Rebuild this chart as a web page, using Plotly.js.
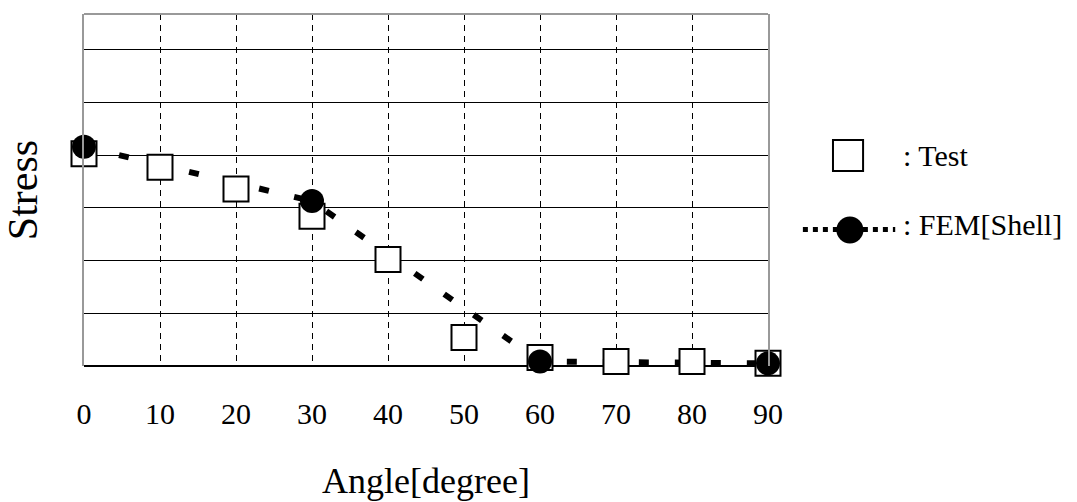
<!DOCTYPE html>
<html>
<head>
<meta charset="utf-8">
<script src="https://cdn.plot.ly/plotly-3.0.1.min.js"></script>
<style>html,body{margin:0;padding:0;background:#fff;}#chart{width:1077px;height:502px;}</style>
</head>
<body>
<div id="chart"></div>
<script>
const angles = [0, 10, 20, 30, 40, 50, 60, 70, 80, 90];
const testStress = [4.03, 3.77, 3.36, 2.84, 2.02, 0.54, 0.16, 0.085, 0.085, 0.05];
const femAngles = [0, 30, 60, 90];
const femStress = [4.16, 3.13, 0.085, 0.05];
const xTickVals = [0, 10, 20, 30, 40, 50, 60, 70, 80, 90];
const xTickText = ["0", "10", "20", "30", "40", "50", "60", "70", "80", "90"];
const yGrid = [1, 2, 3, 4, 5, 6];

const FONT = "Liberation Serif, Times New Roman, serif";

const traces = [
  { x: femAngles, y: femStress, type: "scatter", mode: "lines", cliponaxis: false,
    line: { color: "black", width: 6, dash: "10px,26px" }, hoverinfo: "skip", showlegend: false },
  { x: angles, y: testStress, type: "scatter", mode: "markers", cliponaxis: false, name: "Test",
    marker: { symbol: "square", size: 25, color: "white", line: { color: "black", width: 2 } }, showlegend: false },
  { x: femAngles, y: femStress, type: "scatter", mode: "markers", cliponaxis: false, name: "FEM[Shell]",
    marker: { symbol: "circle", size: 24, color: "black", line: { width: 0 } }, showlegend: false }
];

const layout = {
  width: 1077, height: 502,
  margin: { l: 84, r: 309, t: 14, b: 136 },
  paper_bgcolor: "white", plot_bgcolor: "white",
  font: { family: FONT, color: "black", size: 28 },
  showlegend: false,
  xaxis: {
    range: [0, 90], tickvals: xTickVals, ticktext: xTickText,
    showgrid: true, gridcolor: "black", gridwidth: 1, griddash: "6px,5px",
    showline: false, zeroline: false, ticks: "", ticklabelstandoff: 27,
    tickfont: { family: FONT, size: 30, color: "black" },
    title: { text: "Angle[degree]", font: { family: FONT, size: 36, color: "black" }, standoff: 38 },
    fixedrange: true
  },
  yaxis: {
    range: [0, 6.68], tickvals: yGrid, showticklabels: false,
    showgrid: true, gridcolor: "black", gridwidth: 1,
    zeroline: true, zerolinecolor: "black", zerolinewidth: 1.5,
    showline: true, mirror: true, linecolor: "#999999", linewidth: 2, ticks: "",
    title: { text: "Stress", font: { family: FONT, size: 42, color: "black" }, standoff: 40 },
    fixedrange: true
  },
  shapes: [
    { type: "line", xref: "paper", yref: "paper", x0: 0, x1: 1, y0: 1, y1: 1, line: { color: "#999999", width: 2 } },
    { type: "rect", xref: "paper", yref: "paper", x0: 1.095, x1: 1.139, y0: 0.554, y1: 0.642,
      line: { color: "black", width: 2 }, fillcolor: "white" },
    { type: "line", xref: "paper", yref: "paper", x0: 1.051, x1: 1.186, y0: 0.388, y1: 0.388,
      line: { color: "black", width: 5, dash: "5px,5px" } },
    { type: "circle", xref: "paper", yref: "paper", x0: 1.100, x1: 1.1395, y0: 0.348, y1: 0.4247,
      line: { color: "black", width: 0 }, fillcolor: "black" }
  ],
  annotations: [
    { xref: "paper", yref: "paper", x: 1.195, y: 0.597, xanchor: "left", yanchor: "middle",
      text: ": Test", showarrow: false, font: { family: FONT, size: 30, color: "black" } },
    { xref: "paper", yref: "paper", x: 1.195, y: 0.403, xanchor: "left", yanchor: "middle",
      text: ": FEM[Shell]", showarrow: false, font: { family: FONT, size: 30, color: "black" } }
  ]
};

Plotly.newPlot("chart", traces, layout, { displayModeBar: false, staticPlot: true });
</script>
</body>
</html>
